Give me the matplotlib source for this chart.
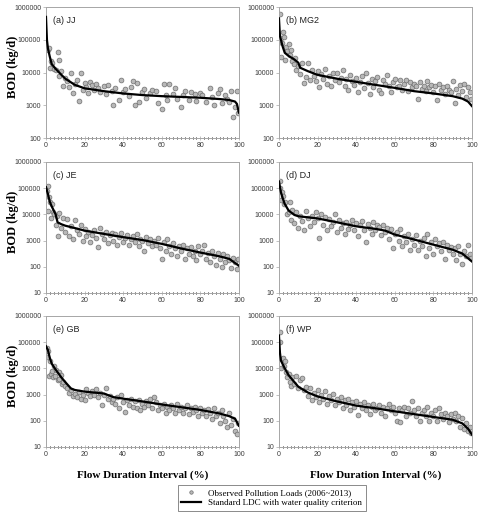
import matplotlib
matplotlib.use('Agg')
import matplotlib.pyplot as plt
from matplotlib.lines import Line2D

# panel titles and y ranges
titles = ['(a) JJ', '(b) MG2', '(c) JE', '(d) DJ', '(e) GB', '(f) WP']
ymins = [100, 100, 10, 10, 10, 10]

# standard LDC curves (flow duration %, BOD kg/d)
ldc_a = [(0, 500000), (0.5, 100000), (1, 55000), (2, 30000), (3, 18000), (5, 13000), (8, 8500),
         (10, 6500), (15, 4200), (20, 3300), (30, 2700), (40, 2300), (50, 2050), (60, 1900),
         (70, 1800), (80, 1700), (90, 1550), (95, 1450), (98, 1300), (99, 1100), (100, 600)]
ldc_b = [(0, 450000), (0.5, 130000), (1, 100000), (2, 60000), (3, 40000), (5, 32000), (8, 25000),
         (10, 20000), (11, 14000), (15, 11000), (20, 8500), (30, 6500), (40, 5200), (50, 4200),
         (60, 3400), (70, 2700), (80, 2300), (90, 1900), (95, 1600), (98, 1300), (100, 950)]
ldc_c = [(0, 110000), (1, 60000), (2, 30000), (3, 20000), (5, 10000), (6, 5000), (8, 4200),
         (10, 3700), (15, 3000), (20, 2400), (30, 1800), (40, 1350), (50, 1050), (60, 750),
         (70, 500), (80, 350), (90, 250), (95, 200), (100, 110)]
ldc_d = [(0, 180000), (1, 70000), (2, 40000), (3, 25000), (5, 14000), (8, 9500), (10, 8500),
         (20, 7000), (30, 5000), (40, 3500), (50, 2800), (55, 2400), (60, 1700), (70, 1100),
         (80, 700), (90, 450), (95, 320), (100, 160)]
ldc_e = [(0, 70000), (1, 50000), (2, 25000), (3, 15000), (5, 9000), (8, 4500), (10, 3000),
         (13, 1700), (15, 1500), (20, 1300), (30, 1100), (35, 800), (40, 700), (50, 550),
         (60, 420), (70, 330), (80, 260), (90, 190), (95, 150), (98, 120), (100, 65)]
ldc_f = [(0, 180000), (0.5, 40000), (1, 20000), (3, 10000), (5, 5500), (8, 3000), (10, 2000),
         (15, 1200), (20, 850), (30, 550), (40, 380), (50, 300), (60, 230), (70, 180),
         (80, 140), (90, 110), (95, 80), (98, 50), (100, 30)]

# observed pollution loads (2006~2013)
obs_a = [(0.5, 55000), (1, 50000), (1.5, 57000), (2, 14000), (2.5, 22000), (3, 19000), (4, 13000),
         (5, 12000), (6, 42000), (6.5, 25000), (7, 8000), (8, 11000), (9, 3800), (10, 7000),
         (11, 5500), (12, 3500), (13, 9500), (14, 2400), (15, 4500), (16, 6000), (17, 1400),
         (18, 9500), (19, 3000), (20, 4800), (21, 3500), (22, 2300), (23, 5000), (24, 4200),
         (25, 3000), (26, 4600), (27, 3400), (28, 2500), (30, 3800), (31, 2200), (32, 4200),
         (34, 2800), (35, 1050), (36, 3400), (38, 1500), (39, 6000), (40, 2600), (41, 3200),
         (43, 1900), (44, 3600), (45, 5500), (46, 1000), (47, 4800), (48, 1300), (50, 2500),
         (51, 3200), (52, 1700), (54, 2300), (55, 3000), (57, 2700), (58, 1200), (60, 750),
         (61, 4600), (62, 2000), (63, 1500), (64, 4400), (66, 2200), (67, 3300), (68, 1600),
         (70, 900), (71, 2000), (72, 2700), (74, 1500), (75, 2500), (77, 2200), (78, 1400),
         (80, 2400), (81, 2000), (83, 1300), (85, 3300), (86, 1800), (87, 1000), (89, 2300),
         (90, 3200), (91, 1200), (93, 2000), (94, 1600), (95, 1300), (96, 2700), (97, 450),
         (98, 900), (99, 2700), (99.5, 600)]
obs_b = [(0.3, 600000), (0.8, 110000), (1, 30000), (1.5, 80000), (2, 170000), (2.5, 120000),
         (3, 25000), (3.5, 60000), (4, 45000), (5, 75000), (5.5, 35000), (6, 50000), (7, 22000),
         (8, 18000), (8.5, 28000), (9, 12000), (10, 16000), (11, 9000), (12, 20000), (13, 4800),
         (14, 7500), (15, 19000), (16, 6000), (17, 12000), (18, 8000), (19, 5500), (20, 11000),
         (21, 3500), (22, 9000), (23, 6500), (24, 13000), (25, 4500), (26, 8000), (27, 3800),
         (28, 9500), (29, 6000), (30, 10000), (31, 5000), (32, 7000), (33, 12000), (34, 4000),
         (35, 6500), (36, 3000), (37, 8500), (38, 5500), (39, 4200), (40, 7000), (41, 2600),
         (42, 5000), (43, 8000), (44, 3300), (45, 10000), (46, 4800), (47, 2200), (48, 6500),
         (49, 3500), (50, 5500), (51, 7500), (52, 3000), (53, 2400), (54, 6000), (55, 4500),
         (56, 8500), (57, 3800), (58, 2500), (59, 5000), (60, 6500), (61, 3500), (62, 4000),
         (63, 5800), (64, 3000), (65, 4500), (66, 6000), (67, 2800), (68, 5200), (69, 3500),
         (70, 4500), (71, 3800), (72, 1600), (73, 5000), (74, 3200), (75, 4000), (76, 2800),
         (77, 5500), (78, 3500), (79, 4200), (80, 2500), (81, 3800), (82, 1500), (83, 4500),
         (84, 3000), (85, 3500), (86, 2200), (87, 4000), (88, 3000), (89, 2600), (90, 5500),
         (91, 1200), (92, 3200), (93, 2000), (94, 4200), (95, 2800), (96, 4500), (97, 1800),
         (98, 3500), (99, 2500), (99.5, 1600)]
obs_c = [(0.3, 80000), (0.8, 120000), (1, 13000), (1.5, 45000), (2, 30000), (2.5, 7000),
         (3, 25000), (3.5, 12000), (4, 10000), (5, 4000), (5.5, 9000), (6, 1500), (7, 11000),
         (8, 3000), (9, 7000), (10, 2200), (11, 6500), (12, 1500), (13, 3500), (14, 1200),
         (15, 6000), (16, 2500), (17, 1800), (18, 3800), (19, 1000), (20, 2800), (21, 1500),
         (22, 2200), (23, 900), (24, 1600), (25, 2600), (26, 1300), (27, 550), (28, 3000),
         (29, 1800), (30, 1200), (31, 2200), (32, 800), (33, 1600), (34, 2000), (35, 1000),
         (36, 1800), (37, 700), (38, 1400), (39, 2000), (40, 900), (41, 1300), (42, 1700),
         (43, 700), (44, 1100), (45, 1500), (46, 900), (47, 1800), (48, 600), (49, 1200),
         (50, 1000), (51, 400), (52, 1400), (53, 800), (54, 1200), (55, 600), (56, 1000),
         (57, 700), (58, 1300), (59, 500), (60, 200), (61, 900), (62, 400), (63, 1100),
         (64, 600), (65, 300), (66, 800), (67, 500), (68, 250), (69, 600), (70, 400), (71, 700),
         (72, 200), (73, 500), (74, 300), (75, 550), (76, 250), (77, 400), (78, 180), (79, 600),
         (80, 300), (81, 400), (82, 650), (83, 200), (84, 350), (85, 150), (86, 400), (87, 250),
         (88, 120), (89, 350), (90, 200), (91, 100), (92, 300), (93, 150), (94, 250), (95, 180),
         (96, 90), (97, 220), (98, 150), (99, 80), (99.5, 200)]
obs_d = [(0.3, 180000), (0.7, 100000), (1, 35000), (1.5, 70000), (2, 50000), (2.5, 25000),
         (3, 30000), (4, 10000), (5, 12000), (5.5, 30000), (6, 6000), (7, 15000), (8, 4500),
         (9, 12000), (10, 3000), (11, 9000), (12, 5500), (13, 2500), (14, 13000), (15, 7000),
         (16, 3500), (17, 9000), (18, 5000), (19, 12000), (20, 7500), (21, 1300), (22, 10000),
         (23, 4000), (24, 8000), (25, 2500), (26, 6500), (27, 3500), (28, 5000), (29, 10000),
         (30, 2200), (31, 6000), (32, 3000), (33, 4500), (34, 1800), (35, 5000), (36, 2800),
         (37, 4000), (38, 6000), (39, 2500), (40, 4500), (41, 1500), (42, 3800), (43, 5500),
         (44, 2500), (45, 900), (46, 4200), (47, 3000), (48, 1800), (49, 5000), (50, 2500),
         (51, 4000), (52, 3300), (53, 1600), (54, 4000), (55, 2200), (56, 3000), (57, 1200),
         (58, 2700), (59, 500), (60, 1800), (61, 2200), (62, 1000), (63, 2800), (64, 600),
         (65, 1500), (66, 900), (67, 1800), (68, 450), (69, 1200), (70, 700), (71, 1600),
         (72, 450), (73, 1000), (74, 600), (75, 1300), (76, 250), (77, 1800), (78, 500),
         (79, 900), (80, 300), (81, 1100), (82, 600), (83, 800), (84, 400), (85, 900), (86, 200),
         (87, 700), (88, 450), (89, 550), (90, 300), (91, 500), (92, 180), (93, 600), (94, 300),
         (95, 130), (96, 400), (97, 250), (98, 650), (99, 300), (99.5, 220)]
obs_e = [(0.3, 60000), (0.7, 28000), (1, 45000), (1.5, 5200), (2, 20000), (2.5, 6000), (3, 8000),
         (3.5, 4500), (4, 12000), (4.5, 5000), (5, 9000), (6, 3500), (6.5, 7000), (7, 4000),
         (8, 5500), (8.5, 2500), (9, 3000), (10, 2200), (11, 1800), (12, 1200), (13, 1500),
         (14, 900), (15, 1100), (16, 800), (17, 1300), (18, 700), (19, 1000), (20, 600),
         (21, 1700), (22, 1200), (23, 900), (24, 1400), (25, 1000), (26, 1600), (27, 800),
         (28, 1200), (29, 400), (30, 1000), (31, 1800), (32, 650), (33, 900), (34, 500),
         (35, 700), (36, 450), (37, 800), (38, 300), (39, 1000), (40, 500), (41, 220), (42, 600),
         (43, 400), (44, 700), (45, 350), (46, 550), (47, 300), (48, 600), (49, 250), (50, 450),
         (51, 350), (52, 550), (53, 400), (54, 700), (55, 300), (56, 800), (57, 500), (58, 250),
         (59, 400), (60, 300), (61, 450), (62, 200), (63, 350), (64, 250), (65, 400), (66, 300),
         (67, 200), (68, 450), (69, 250), (70, 350), (71, 200), (72, 300), (73, 400), (74, 180),
         (75, 300), (76, 220), (77, 350), (78, 250), (79, 150), (80, 300), (81, 200), (82, 250),
         (83, 150), (84, 280), (85, 200), (86, 120), (87, 300), (88, 150), (89, 200), (90, 80),
         (91, 250), (92, 150), (93, 100), (94, 60), (95, 200), (96, 70), (97, 120), (98, 40),
         (99, 30), (99.5, 80)]
obs_f = [(0.3, 250000), (0.7, 100000), (1, 10000), (1.5, 22000), (2, 25000), (2.5, 12000),
         (3, 20000), (3.5, 7000), (4, 4500), (5, 6000), (5.5, 3000), (6, 2200), (7, 4800),
         (8, 2500), (9, 5000), (10, 1800), (11, 3500), (12, 4200), (13, 1500), (14, 2000),
         (15, 900), (16, 1800), (17, 600), (18, 1200), (19, 800), (20, 1500), (21, 500),
         (22, 1000), (23, 700), (24, 1400), (25, 450), (26, 900), (27, 600), (28, 1100),
         (29, 400), (30, 700), (31, 500), (32, 800), (33, 300), (34, 600), (35, 400), (36, 700),
         (37, 250), (38, 500), (39, 350), (40, 550), (41, 170), (42, 450), (43, 300), (44, 500),
         (45, 250), (46, 400), (47, 180), (48, 350), (49, 450), (50, 250), (51, 300), (52, 400),
         (53, 200), (54, 350), (55, 150), (56, 300), (57, 450), (58, 250), (59, 350), (60, 200),
         (61, 100), (62, 300), (63, 90), (64, 250), (65, 350), (66, 150), (67, 300), (68, 200),
         (69, 550), (70, 250), (71, 150), (72, 300), (73, 100), (74, 200), (75, 250), (76, 150),
         (77, 350), (78, 100), (79, 200), (80, 150), (81, 250), (82, 100), (83, 300), (84, 180),
         (85, 120), (86, 200), (87, 150), (88, 90), (89, 180), (90, 120), (91, 200), (92, 100),
         (93, 150), (94, 60), (95, 130), (96, 50), (97, 80), (98, 40), (99, 60), (99.5, 35)]

ldcs = [ldc_a, ldc_b, ldc_c, ldc_d, ldc_e, ldc_f]
obss = [obs_a, obs_b, obs_c, obs_d, obs_e, obs_f]

fig = plt.figure(figsize=(4.81, 5.17), dpi=100)

lefts = [0.0956, 0.580]
bottoms = [0.733, 0.4333, 0.1354]
w, h = 0.401, 0.2534
serif = 'Liberation Serif'
sans = 'Liberation Sans'
spine_c = '#a6a6a6'

for i in range(6):
    row, col = divmod(i, 2)
    ax = fig.add_axes([lefts[col], bottoms[row], w, h])
    ox, oy = zip(*obss[i])
    lx, ly = zip(*ldcs[i])
    ax.scatter(ox, oy, s=12, facecolor='#b8b8b8', edgecolor='#6e6e6e', linewidth=0.5, zorder=2)
    ax.plot(lx, ly, color='black', lw=1.6, zorder=3)
    ax.set_yscale('log')
    ax.set_xlim(0, 100)
    ax.set_ylim(ymins[i], 1000000)
    yt = [10 ** k for k in range(6) if 10 ** k >= ymins[i]] + [1000000]
    ax.set_yticks(yt, [str(v) for v in yt])
    ax.minorticks_off()
    ax.set_xticks(range(0, 101, 20))
    ax.set_xticks(range(0, 101, 2), minor=True)
    ax.tick_params(axis='both', labelsize=5, colors='#3a3a3a', length=2, width=0.5,
                   color=spine_c, pad=1.5)
    ax.tick_params(axis='x', which='both', direction='inout', length=2.5)
    ax.tick_params(axis='x', which='minor', length=1.5)
    for lbl in ax.get_xticklabels() + ax.get_yticklabels():
        lbl.set_fontfamily(sans)
    for sp in ax.spines.values():
        sp.set_color(spine_c)
        sp.set_linewidth(0.7)
    ax.text(0.035, 0.93, titles[i], transform=ax.transAxes, fontsize=6.5,
            family=sans, color='#222222', va='top')
    if col == 0:
        ax.set_ylabel('BOD (kg/d)', fontsize=9, fontweight='bold', family=serif)
        ax.yaxis.set_label_coords(-0.172, 0.54)
        ax.yaxis.label.set_verticalalignment('center')
    if row == 2:
        ax.set_xlabel('Flow Duration Interval (%)', fontsize=8, fontweight='bold',
                      family=serif, labelpad=9)

handles = [Line2D([], [], ls='none', marker='o', markersize=2.5, markerfacecolor='#b8b8b8',
                  markeredgecolor='#6e6e6e', markeredgewidth=0.5),
           Line2D([], [], color='black', lw=1.6)]
leg = fig.legend(handles, ['Observed Pollution Loads (2006~2013)',
                           'Standard LDC with water quality criterion'],
                 loc='upper left', bbox_to_anchor=(0.36, 0.07), frameon=True, fancybox=False,
                 prop={'family': serif, 'size': 6.5}, handlelength=2.2, borderpad=0.4,
                 labelspacing=0.2)
leg.get_frame().set_edgecolor('#555555')
leg.get_frame().set_linewidth(0.6)

fig.savefig('out.png', dpi=100)
